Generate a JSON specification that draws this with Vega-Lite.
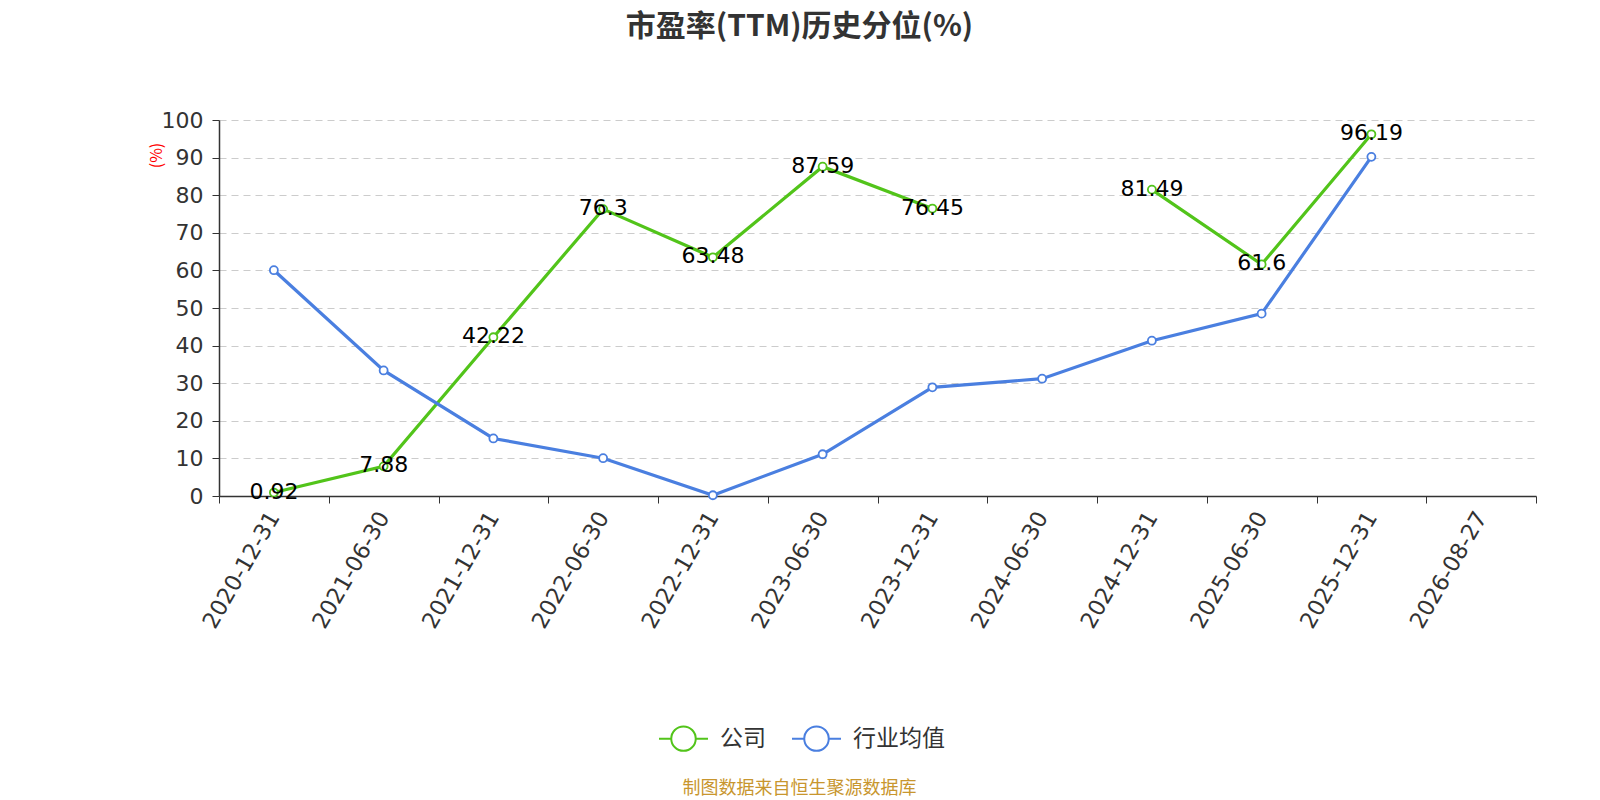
{
  "$schema": "https://vega.github.io/schema/vega-lite/v6.json",
  "width": 1317,
  "height": 376,
  "autosize": "none",
  "padding": {"left": 219, "top": 120, "right": 64, "bottom": 304},
  "background": "white",
  "config": {
    "font": "Noto Sans CJK SC",
    "view": {"stroke": null}
  },
  "title": {
    "text": "市盈率(TTM)历史分位(%)",
    "fontSize": 30,
    "fontWeight": "bold",
    "color": "#333333",
    "anchor": "middle",
    "dx": -78,
    "offset": 67,
    "font": "Noto Sans CJK SC"
  },
  "data": {
    "values": [
      {"date": "2020-12-31", "series": "公司", "value": 0.92},
      {"date": "2021-06-30", "series": "公司", "value": 7.88},
      {"date": "2021-12-31", "series": "公司", "value": 42.22},
      {"date": "2022-06-30", "series": "公司", "value": 76.3},
      {"date": "2022-12-31", "series": "公司", "value": 63.48},
      {"date": "2023-06-30", "series": "公司", "value": 87.59},
      {"date": "2023-12-31", "series": "公司", "value": 76.45},
      {"date": "2024-06-30", "series": "公司", "value": null},
      {"date": "2024-12-31", "series": "公司", "value": 81.49},
      {"date": "2025-06-30", "series": "公司", "value": 61.6},
      {"date": "2025-12-31", "series": "公司", "value": 96.19},
      {"date": "2020-12-31", "series": "行业均值", "value": 60.05},
      {"date": "2021-06-30", "series": "行业均值", "value": 33.4},
      {"date": "2021-12-31", "series": "行业均值", "value": 15.3},
      {"date": "2022-06-30", "series": "行业均值", "value": 10.05},
      {"date": "2022-12-31", "series": "行业均值", "value": 0.2},
      {"date": "2023-06-30", "series": "行业均值", "value": 11.1},
      {"date": "2023-12-31", "series": "行业均值", "value": 28.9},
      {"date": "2024-06-30", "series": "行业均值", "value": 31.2},
      {"date": "2024-12-31", "series": "行业均值", "value": 41.3},
      {"date": "2025-06-30", "series": "行业均值", "value": 48.5},
      {"date": "2025-12-31", "series": "行业均值", "value": 90.2}
    ]
  },
  "encoding": {
    "x": {
      "field": "date",
      "type": "nominal",
      "sort": null,
      "scale": {
        "type": "band",
        "paddingInner": 0,
        "paddingOuter": 0,
        "domain": ["2020-12-31", "2021-06-30", "2021-12-31", "2022-06-30", "2022-12-31", "2023-06-30", "2023-12-31", "2024-06-30", "2024-12-31", "2025-06-30", "2025-12-31", "2026-08-27"]
      },
      "axis": {
        "title": "制图数据来自恒生聚源数据库",
        "titleColor": "#c8962e",
        "titleFontSize": 18,
        "titleFontWeight": "normal",
        "titleX": 580,
        "titleY": 292,
        "titleAlign": "center",
        "titleBaseline": "middle",
        "labelAngle": -60,
        "labelAlign": "right",
        "labelBaseline": "middle",
        "labelFontSize": 22.5,
        "labelColor": "#333333",
        "labelPadding": 10,
        "labelFont": "DejaVu Sans",
        "tickBand": "extent",
        "tickColor": "#333333",
        "tickSize": 7,
        "domainColor": "#333333",
        "domainWidth": 1.5,
        "grid": false
      }
    },
    "y": {
      "field": "value",
      "type": "quantitative",
      "scale": {"domain": [0, 100]},
      "axis": {
        "title": "(%)",
        "titleColor": "red",
        "titleFontSize": 16,
        "titleFontWeight": "normal",
        "titleX": -63,
        "titleY": 35,
        "titleAlign": "center",
        "titleBaseline": "middle",
        "titleAngle": -90,
        "values": [0, 10, 20, 30, 40, 50, 60, 70, 80, 90, 100],
        "labelFontSize": 22,
        "labelColor": "#333333",
        "labelFont": "DejaVu Sans",
        "labelPadding": 9,
        "tickColor": "#333333",
        "tickSize": 7,
        "domainColor": "#333333",
        "domainWidth": 1.5,
        "grid": true,
        "gridColor": "#cccccc",
        "gridDash": [7, 5],
        "gridWidth": 1.2
      }
    }
  },
  "layer": [
    {
      "mark": {
        "type": "line",
        "strokeWidth": 3.2,
        "invalid": "break-paths-show-domains",
        "point": {"filled": false, "fill": "white", "size": 64, "strokeWidth": 1.8}
      },
      "encoding": {
        "color": {
          "field": "series",
          "type": "nominal",
          "sort": ["公司", "行业均值"],
          "scale": {"domain": ["公司", "行业均值"], "range": ["#52c41a", "#4a7fe0"]},
          "legend": {
            "title": null,
            "orient": "none",
            "direction": "horizontal",
            "legendX": 439,
            "legendY": 593,
            "symbolType": "M-1,0L-0.5,0M0.5,0L1,0M0.5,0A0.5,0.5,0,1,1,-0.5,0A0.5,0.5,0,1,1,0.5,0",
            "symbolSize": 2400,
            "symbolFillColor": "white",
            "symbolStrokeWidth": 2,
            "labelFontSize": 23,
            "labelColor": "#333333",
            "labelOffset": 11,
            "columnPadding": 22
          }
        }
      }
    },
    {
      "transform": [{"filter": "datum.series === '公司' && datum.value != null"}],
      "mark": {"type": "text", "fontSize": 22, "color": "black", "font": "DejaVu Sans", "baseline": "middle", "dy": -1},
      "encoding": {
        "text": {"field": "value", "type": "quantitative", "format": ""}
      }
    }
  ]
}
